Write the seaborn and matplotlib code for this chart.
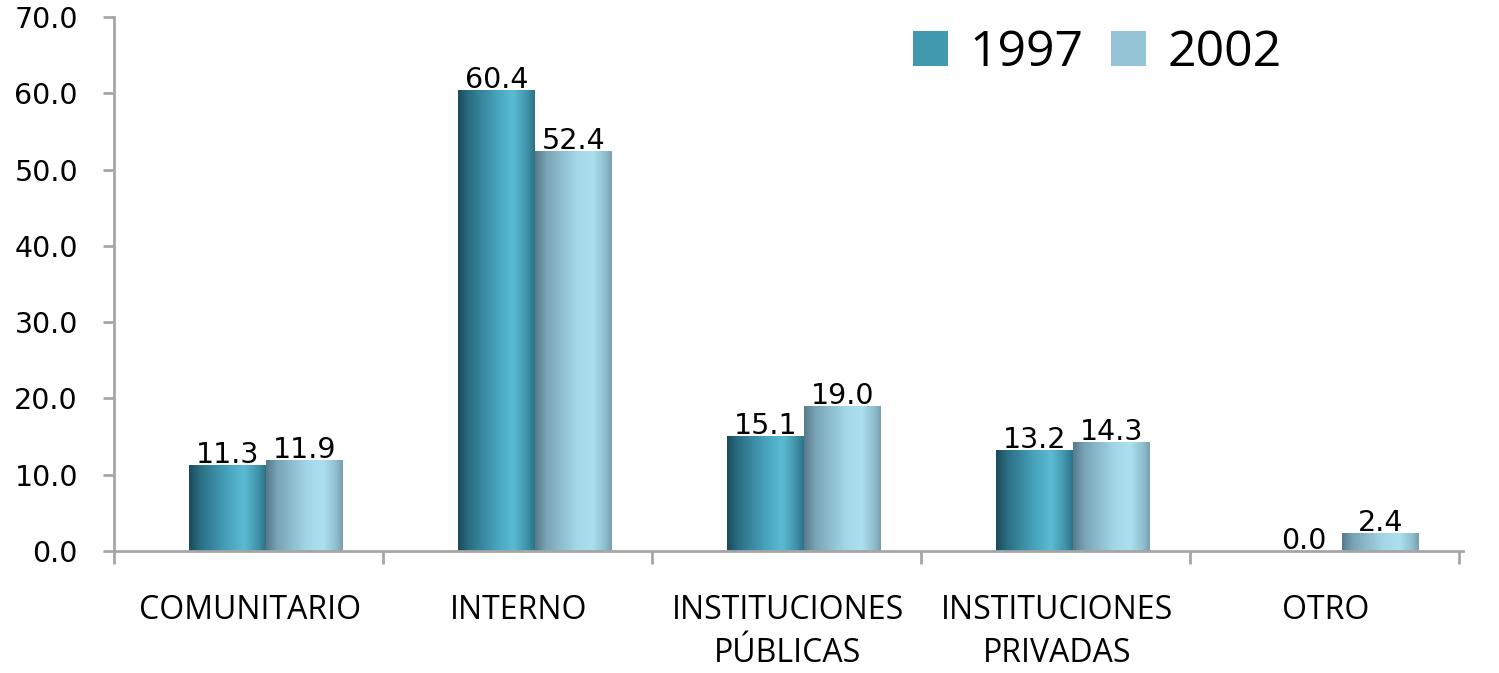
import numpy as np
import pandas as pd
import matplotlib
matplotlib.use("Agg")
import matplotlib.pyplot as plt
import seaborn as sns
from matplotlib.colors import LinearSegmentedColormap
from matplotlib.patches import Patch

# ---- data ----
categories = ["COMUNITARIO", "INTERNO", "INSTITUCIONES\nPÚBLICAS",
              "INSTITUCIONES\nPRIVADAS", "OTRO"]
years = ["1997", "2002"]
values_1997 = [11.3, 60.4, 15.1, 13.2, 0.0]
values_2002 = [11.9, 52.4, 19.0, 14.3, 2.4]
yticks = [0, 10, 20, 30, 40, 50, 60, 70]

df = pd.DataFrame({
    "categoria": categories * 2,
    "valor": values_1997 + values_2002,
    "año": [years[0]] * len(categories) + [years[1]] * len(categories),
})

sns.set_style("white")
plt.rcParams["font.family"] = ["DejaVu Sans"]
plt.rcParams["text.color"] = "black"

W, H = 1499, 673
fig = plt.figure(figsize=(W / 100, H / 100), dpi=100)
ax = fig.add_axes([114 / W, 1 - 551 / H, (1463 - 114) / W, (551 - 17) / H])

palette = {"1997": "#4199AF", "2002": "#94C4D6"}
sns.barplot(data=df, x="categoria", y="valor", hue="año", order=categories,
            hue_order=years, palette=palette, width=0.572, saturation=1,
            errorbar=None, legend=False, ax=ax)

# cylinder-like shading inside each bar
cmaps = {
    "1997": LinearSegmentedColormap.from_list("c97", [
        (0.0, "#1b4b5a"), (0.15, "#2b6f84"), (0.5, "#47a3bc"),
        (0.72, "#5bbcd3"), (0.9, "#3f93a9"), (1.0, "#2c7285")]),
    "2002": LinearSegmentedColormap.from_list("c02", [
        (0.0, "#57798a"), (0.15, "#79a5b6"), (0.55, "#a4d8e9"),
        (0.75, "#ace0ef"), (0.92, "#8ebccc"), (1.0, "#789fae")]),
}
grad = np.linspace(0, 1, 256).reshape(1, -1)
for year, container in zip(years, ax.containers):
    for patch in container.patches:
        h = patch.get_height()
        if h <= 0:
            continue
        x0, w = patch.get_x(), patch.get_width()
        im = ax.imshow(grad, cmap=cmaps[year], extent=(x0, x0 + w, 0, h),
                       aspect="auto", interpolation="bicubic",
                       zorder=patch.get_zorder() + 0.1)
        im.set_clip_path(patch)

for container in ax.containers:
    ax.bar_label(container, fmt="%.1f", padding=-3, fontsize=20.5,
                 color="black", zorder=5)

ax.set_xlim(-0.565, 4.45)
ax.set_ylim(0, 70)

axis_gray = "#A6A6A6"
ax.set_yticks(yticks)
ax.set_yticklabels([f"{v:.1f}" for v in yticks])
ax.tick_params(axis="y", left=True, length=8, width=2, color=axis_gray,
               pad=18, labelsize=20.5, labelcolor="black", direction="out")

ax.set_xticks([i - 0.06 for i in range(len(categories))])
ax.set_xticklabels(categories, family="Open Sans", fontsize=23,
                   linespacing=1.4, color="black")
ax.tick_params(axis="x", which="major", bottom=True, length=0, pad=31)
ax.set_xticks([i - 0.565 for i in range(len(categories) + 1)], minor=True)
ax.tick_params(axis="x", which="minor", bottom=True, length=9, width=2,
               color=axis_gray, direction="out")

ax.set_xlabel("")
ax.set_ylabel("")
sns.despine(ax=ax)
for side in ("left", "bottom"):
    ax.spines[side].set_color(axis_gray)
    ax.spines[side].set_linewidth(2)

handles = [Patch(facecolor=palette[y], edgecolor="none") for y in years]
ax.legend(handles, years, ncol=2, loc="upper left",
          bbox_to_anchor=(913 / W, 1 - 28 / H), bbox_transform=fig.transFigure,
          frameon=False, prop={"family": "Open Sans", "size": 36},
          labelcolor="black",
          handlelength=0.7, handleheight=0.7, handletextpad=0.44,
          columnspacing=0.54, borderpad=0, borderaxespad=0)

fig.savefig("out.png", dpi=100)
